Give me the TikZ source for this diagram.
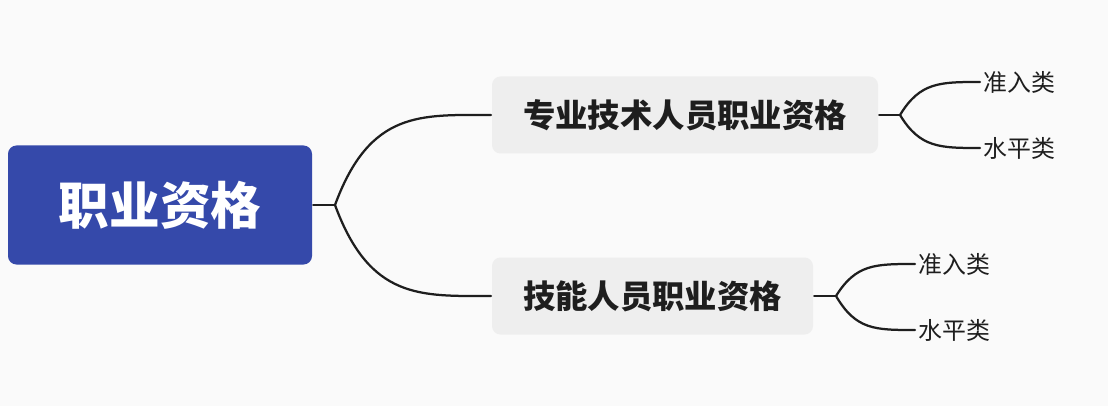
\documentclass[tikz,border=0pt]{standalone}
\usepackage{fontspec}
\setmainfont{Noto Sans CJK SC}
\usetikzlibrary{positioning}

\begin{document}
\begin{tikzpicture}[x=0.025cm, y=-0.025cm, line width=1.6pt, line cap=round]

  % Define colors
  \definecolor{rootblue}{RGB}{53,73,170}
  \definecolor{boxgray}{RGB}{238,238,238}
  \definecolor{paper}{RGB}{250,250,250}
  \definecolor{linkblack}{RGB}{30,30,30}

  \tikzset{
    rootbox/.style={fill=rootblue, rounded corners=6pt, text=white, font=\fontsize{36}{38}\selectfont\bfseries, minimum width=304*0.025cm, minimum height=119*0.025cm},
    branchbox/.style={fill=boxgray, rounded corners=6pt, text=linkblack, font=\fontsize{23}{25}\selectfont\bfseries, minimum height=77*0.025cm},
    leaf/.style={text=linkblack, font=\fontsize{17}{19}\selectfont, anchor=west, inner sep=2pt},
    link/.style={draw=linkblack}
  }

  % Background
  \fill[paper] (0,0) rectangle (1108,406);

  % Nodes
  \node[rootbox] (root) at (160,205) {职业资格};
  \node[branchbox, minimum width=386*0.025cm] (pro) at (685,115) {专业技术人员职业资格};
  \node[branchbox, minimum width=321*0.025cm] (skill) at (652.5,296) {技能人员职业资格};

  \node[leaf] (proA) at (980,82) {准入类};
  \node[leaf] (proB) at (980,148) {水平类};
  \node[leaf] (skillA) at (915,264) {准入类};
  \node[leaf] (skillB) at (915,330) {水平类};

  % Junctions
  \coordinate (jroot) at (335,205);
  \coordinate (jpro) at (900,115);
  \coordinate (jskill) at (836,296);

  % Connectors
  \draw[link] (root.east) -- (jroot);
  \draw[link] (jroot) .. controls +(35,-95) and +(-70,0) .. (pro.west);
  \draw[link] (jroot) .. controls +(35,95) and +(-70,0) .. (skill.west);

  \draw[link] (pro.east) -- (jpro);
  \draw[link] (jpro) .. controls +(20,-33) and +(-40,0) .. (proA.west);
  \draw[link] (jpro) .. controls +(20,33) and +(-40,0) .. (proB.west);

  \draw[link] (skill.east) -- (jskill);
  \draw[link] (jskill) .. controls +(20,-32) and +(-40,0) .. (skillA.west);
  \draw[link] (jskill) .. controls +(20,34) and +(-40,0) .. (skillB.west);

\end{tikzpicture}
\end{document}
